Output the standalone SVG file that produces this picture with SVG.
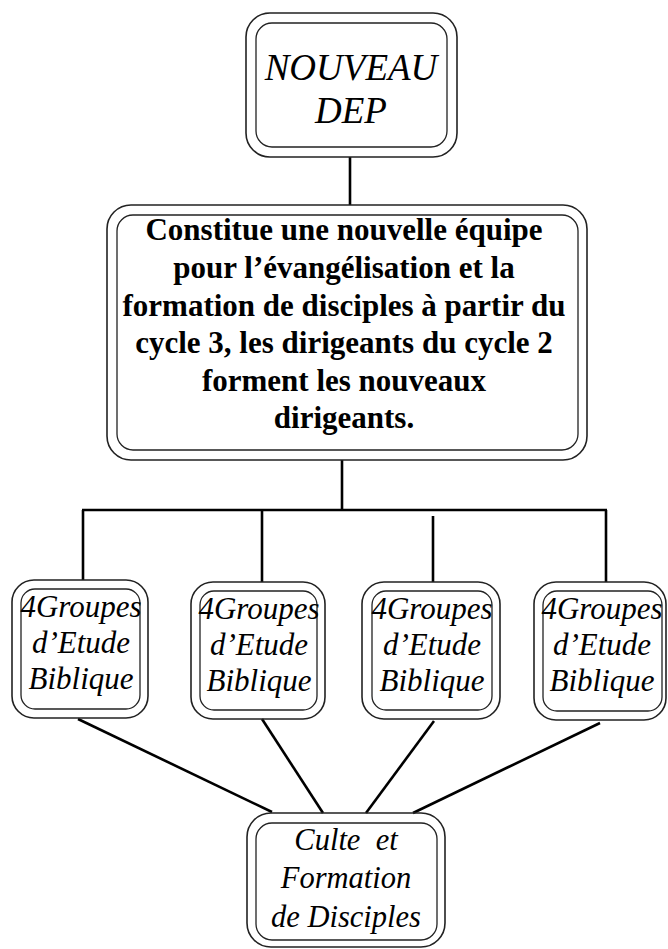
<svg xmlns="http://www.w3.org/2000/svg" width="668" height="949" viewBox="0 0 668 949">
<style>
.o{fill:none;stroke:#222;stroke-width:1.6}
.i{fill:none;stroke:#222;stroke-width:1.3}
.c{stroke:#000;stroke-width:2.6;fill:none}
.t{font-family:"Liberation Serif","Times New Roman",serif;font-style:italic;fill:#000;text-anchor:middle}
.b{font-family:"Liberation Serif","Times New Roman",serif;font-weight:bold;fill:#000;text-anchor:middle;font-size:31px}
</style>
<rect width="668" height="949" fill="#fff"/>
<g id="connectors">
<line class="c" x1="350" y1="157" x2="350" y2="205"/>
<line class="c" x1="342" y1="460" x2="342" y2="510"/>
<line class="c" x1="82" y1="510" x2="607" y2="510"/>
<line class="c" x1="83" y1="510" x2="83" y2="580"/>
<line class="c" x1="262" y1="510" x2="262" y2="582"/>
<line class="c" x1="433" y1="516" x2="433" y2="582"/>
<line class="c" x1="606" y1="510" x2="606" y2="582"/>
<line class="c" x1="78" y1="719" x2="272" y2="812"/>
<line class="c" x1="262" y1="719" x2="323" y2="813"/>
<line class="c" x1="434" y1="721" x2="366" y2="813"/>
<line class="c" x1="600" y1="723" x2="413" y2="813"/>
</g>
<g id="n1">
<rect class="o" x="246" y="13" width="211" height="144" rx="24"/>
<rect class="i" x="256" y="23" width="191" height="124" rx="16"/>
<text class="t" x="351" y="80" font-size="37">NOUVEAU</text>
<text class="t" x="351" y="123" font-size="37">DEP</text>
</g>
<g id="n2">
<rect class="o" x="107" y="205" width="480" height="255" rx="24"/>
<rect class="i" x="117" y="215" width="461" height="235" rx="16"/>
<text class="b" x="344" y="240">Constitue une nouvelle équipe</text>
<text class="b" x="344" y="278">pour l’évangélisation et la</text>
<text class="b" x="344" y="316">formation de disciples à partir du</text>
<text class="b" x="344" y="353">cycle 3, les dirigeants du cycle 2</text>
<text class="b" x="344" y="391">forment les nouveaux</text>
<text class="b" x="344" y="428">dirigeants.</text>
</g>
<g id="n3">
<rect class="o" x="12" y="580" width="136" height="138" rx="22"/>
<rect class="i" x="21" y="589" width="119" height="120" rx="14"/>
<text class="t" x="81" y="617" font-size="31">4Groupes</text>
<text class="t" x="81" y="653" font-size="31">d’Etude</text>
<text class="t" x="81" y="689" font-size="31">Biblique</text>
</g>
<g id="n4">
<rect class="o" x="191" y="582" width="134" height="137" rx="22"/>
<rect class="i" x="200" y="591" width="117" height="119" rx="14"/>
<text class="t" x="259" y="619" font-size="31">4Groupes</text>
<text class="t" x="259" y="655" font-size="31">d’Etude</text>
<text class="t" x="259" y="691" font-size="31">Biblique</text>
</g>
<g id="n5">
<rect class="o" x="362" y="582" width="138" height="137" rx="22"/>
<rect class="i" x="372" y="591" width="120" height="119" rx="14"/>
<text class="t" x="432" y="619" font-size="31">4Groupes</text>
<text class="t" x="432" y="655" font-size="31">d’Etude</text>
<text class="t" x="432" y="691" font-size="31">Biblique</text>
</g>
<g id="n6">
<rect class="o" x="534" y="582" width="132" height="138" rx="22"/>
<rect class="i" x="543" y="591" width="119" height="120" rx="14"/>
<text class="t" x="602" y="619" font-size="31">4Groupes</text>
<text class="t" x="602" y="655" font-size="31">d’Etude</text>
<text class="t" x="602" y="691" font-size="31">Biblique</text>
</g>
<g id="n7">
<rect class="o" x="247" y="813" width="198" height="134" rx="24"/>
<rect class="i" x="256" y="823" width="181" height="117" rx="16"/>
<text class="t" x="346" y="850" font-size="30.5" xml:space="preserve">Culte  et</text>
<text class="t" x="346" y="888" font-size="30.5">Formation</text>
<text class="t" x="346" y="927" font-size="30.5">de Disciples</text>
</g>
</svg>
